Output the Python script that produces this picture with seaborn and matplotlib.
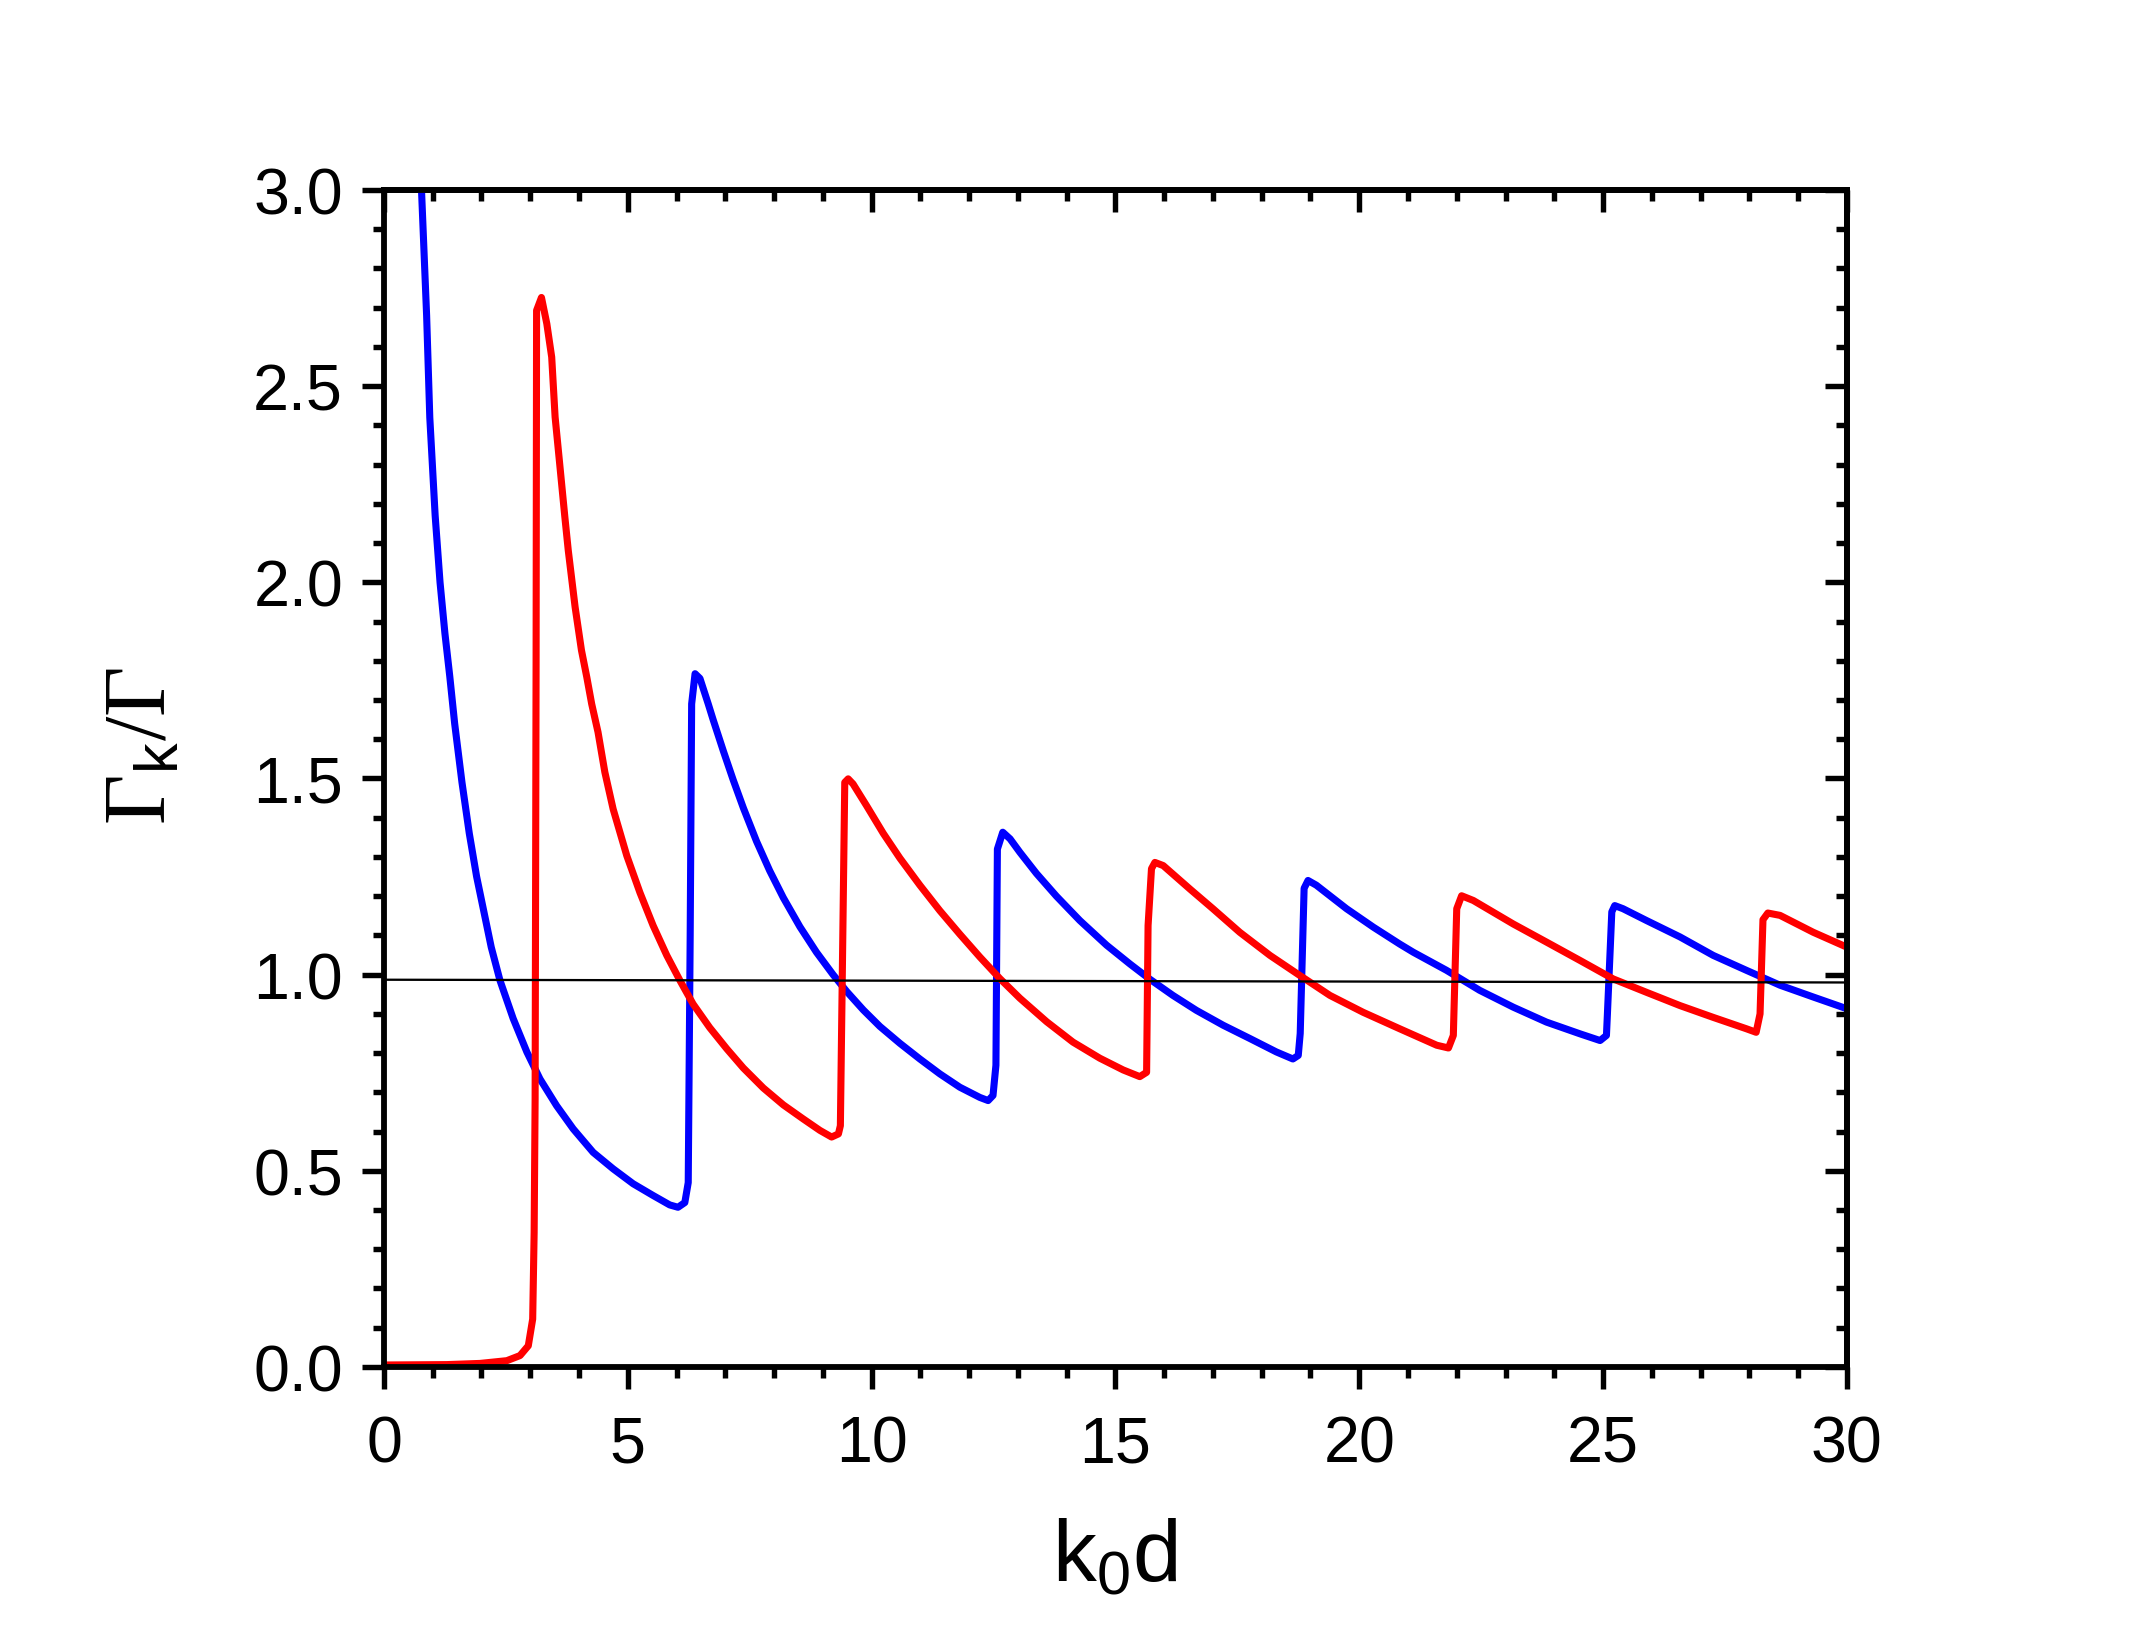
import matplotlib
matplotlib.use("Agg")
import matplotlib.pyplot as plt
import seaborn as sns
import pandas as pd
from matplotlib.ticker import MultipleLocator

# ---- data ----
blue_x = [0.70, 0.77, 0.875, 0.94, 1.05, 1.15, 1.25, 1.35, 1.45, 1.60, 1.75, 1.90, 2.05, 2.20,
          2.38, 2.65, 2.93, 3.20, 3.54, 3.88, 4.29, 4.70, 5.11, 5.52, 5.86, 6.03, 6.17, 6.24,
          6.28, 6.31, 6.38, 6.48, 6.65, 6.75, 6.96, 7.16, 7.37, 7.64, 7.91, 8.19, 8.53, 8.87,
          9.21, 9.49, 9.83, 10.17, 10.58, 10.99, 11.40, 11.81, 12.22, 12.39, 12.49, 12.55,
          12.58, 12.69, 12.84, 13.04, 13.38, 13.79, 14.27, 14.82, 15.30, 15.71, 16.18, 16.66,
          17.21, 17.76, 18.30, 18.64, 18.75, 18.79, 18.87, 18.95, 19.12, 19.74, 20.29, 20.83,
          21.11, 21.79, 22.47, 23.16, 23.84, 24.53, 24.94, 25.07, 25.09, 25.18, 25.24, 25.41,
          25.89, 26.58, 27.26, 27.94, 28.63, 29.31, 30.0]
blue_y = [3.20, 3.00, 2.68, 2.42, 2.17, 2.00, 1.87, 1.76, 1.64, 1.49, 1.36, 1.25, 1.16, 1.07,
          0.985, 0.888, 0.803, 0.734, 0.666, 0.607, 0.547, 0.505, 0.467, 0.437, 0.413, 0.407,
          0.419, 0.47, 1.10, 1.69, 1.767, 1.755, 1.690, 1.650, 1.570, 1.497, 1.425, 1.340, 1.265,
          1.196, 1.122, 1.057, 1.000, 0.957, 0.910, 0.868, 0.825, 0.785, 0.747, 0.713, 0.687,
          0.679, 0.692, 0.769, 1.32, 1.363, 1.346, 1.312, 1.258, 1.200, 1.138, 1.075, 1.027,
          0.988, 0.947, 0.909, 0.871, 0.837, 0.803, 0.785, 0.794, 0.85, 1.22, 1.24, 1.228,
          1.168, 1.121, 1.078, 1.057, 1.011, 0.960, 0.917, 0.879, 0.849, 0.832, 0.845, 0.90,
          1.16, 1.176, 1.168, 1.138, 1.096, 1.049, 1.011, 0.973, 0.943, 0.913]

red_x = [0.0, 1.29, 1.97, 2.52, 2.79, 2.96, 3.05, 3.08, 3.10, 3.12, 3.13, 3.23, 3.34, 3.44,
         3.51, 3.61, 3.71, 3.78, 3.92, 4.05, 4.16, 4.26, 4.39, 4.53, 4.70, 4.98, 5.25, 5.52,
         5.80, 6.07, 6.34, 6.68, 7.03, 7.37, 7.78, 8.19, 8.60, 8.94, 9.18, 9.32, 9.36, 9.45,
         9.52, 9.62, 9.90, 10.24, 10.58, 10.99, 11.40, 11.81, 12.22, 12.63, 13.04, 13.59,
         14.13, 14.68, 15.16, 15.50, 15.64, 15.67, 15.74, 15.81, 15.98, 16.53, 17.00, 17.55,
         18.17, 18.78, 19.40, 20.08, 20.83, 21.59, 21.83, 21.93, 22.00, 22.10, 22.34, 23.16,
         23.84, 24.53, 25.21, 25.89, 26.58, 27.26, 27.94, 28.14, 28.22, 28.28, 28.38, 28.63,
         29.31, 30.0]
red_y = [0.005, 0.006, 0.009, 0.016, 0.029, 0.054, 0.122, 0.343, 0.683, 1.80, 2.693, 2.726,
         2.659, 2.574, 2.421, 2.294, 2.166, 2.081, 1.937, 1.827, 1.758, 1.69, 1.618, 1.516,
         1.422, 1.303, 1.209, 1.125, 1.049, 0.985, 0.925, 0.865, 0.811, 0.762, 0.711, 0.668,
         0.632, 0.603, 0.586, 0.594, 0.615, 1.49, 1.499, 1.486, 1.430, 1.360, 1.297, 1.228,
         1.163, 1.103, 1.045, 0.990, 0.940, 0.880, 0.828, 0.787, 0.757, 0.740, 0.751, 1.125,
         1.27, 1.286, 1.278, 1.218, 1.168, 1.108, 1.049, 0.998, 0.947, 0.904, 0.862, 0.820,
         0.813, 0.845, 1.168, 1.201, 1.189, 1.129, 1.083, 1.036, 0.989, 0.955, 0.921, 0.891,
         0.862, 0.853, 0.90, 1.14, 1.157, 1.151, 1.108, 1.070]

ref_x = [0.0, 30.0]
ref_y = [0.987, 0.980]

x_major = [0, 5, 10, 15, 20, 25, 30]
y_major = [0.0, 0.5, 1.0, 1.5, 2.0, 2.5, 3.0]

# ---- style ----
sns.set_theme(style="ticks")
plt.rcParams["font.family"] = ["Liberation Sans", "DejaVu Sans"]
plt.rcParams.update({
    "mathtext.fontset": "custom",
    "mathtext.rm": "Liberation Serif",
    "mathtext.it": "Liberation Serif:italic",
    "mathtext.sf": "Liberation Sans",
    "mathtext.default": "regular",
    "text.color": "black",
    "axes.labelcolor": "black",
    "axes.edgecolor": "black",
    "xtick.color": "black",
    "ytick.color": "black",
})

fig = plt.figure(figsize=(7.15, 5.4733), dpi=300)
ax = fig.add_axes([0.179, 0.1669, 0.682, 0.7168])

df_b = pd.DataFrame({"x": blue_x, "y": blue_y})
df_r = pd.DataFrame({"x": red_x, "y": red_y})
df_k = pd.DataFrame({"x": ref_x, "y": ref_y})

sns.lineplot(data=df_b, x="x", y="y", ax=ax, color="#0000ff", lw=1.7,
             sort=False, estimator=None, solid_joinstyle="round", solid_capstyle="round")
sns.lineplot(data=df_r, x="x", y="y", ax=ax, color="#ff0000", lw=1.7,
             sort=False, estimator=None, solid_joinstyle="round", solid_capstyle="round")
sns.lineplot(data=df_k, x="x", y="y", ax=ax, color="black", lw=0.55,
             sort=False, estimator=None, zorder=5)

ax.set_xlim(0, 30)
ax.set_ylim(0, 3)
ax.set_xticks(x_major)
ax.set_yticks(y_major)
ax.set_xticklabels([str(v) for v in x_major])
ax.set_yticklabels([f"{v:.1f}" for v in y_major])
ax.xaxis.set_minor_locator(MultipleLocator(1))
ax.yaxis.set_minor_locator(MultipleLocator(0.1))

for s in ax.spines.values():
    s.set_linewidth(1.4)
    s.set_color("black")

ax.tick_params(which="both", direction="out", top=False, right=False,
               bottom=True, left=True, width=1.3, labelsize=15.5, colors="black")
ax.tick_params(which="major", length=5.3)
ax.tick_params(which="minor", length=2.6)
ax.tick_params(axis="x", which="major", pad=6)
ax.tick_params(axis="y", which="major", pad=4.5)

secx = ax.secondary_xaxis("top")
secx.set_xticks(x_major)
secx.xaxis.set_minor_locator(MultipleLocator(1))
secx.tick_params(which="both", direction="in", width=1.3, labeltop=False, colors="black")
secx.tick_params(which="major", length=5.3)
secx.tick_params(which="minor", length=2.6)
secx.spines["top"].set_linewidth(1.4)

secy = ax.secondary_yaxis("right")
secy.set_yticks(y_major)
secy.yaxis.set_minor_locator(MultipleLocator(0.1))
secy.tick_params(which="both", direction="in", width=1.3, labelright=False, colors="black")
secy.tick_params(which="major", length=5.3)
secy.tick_params(which="minor", length=2.6)
secy.spines["right"].set_linewidth(1.4)

ax.set_xlabel(r"k$_{0}$d", fontsize=21)
ax.set_ylabel(r"$\mathrm{\Gamma}_{\mathsf{k}}\mathrm{/\Gamma}$", fontsize=21)
ax.xaxis.set_label_coords(0.5, -0.128)
ax.yaxis.set_label_coords(-0.137, 0.528)

fig.savefig("out.png", dpi=300)
